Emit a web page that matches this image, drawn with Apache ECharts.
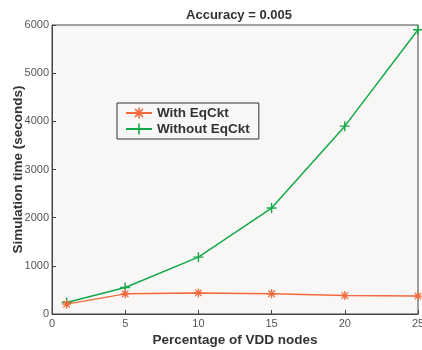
<!DOCTYPE html>
<html><head><meta charset="utf-8">
<script src="https://cdn.jsdelivr.net/npm/echarts@6/dist/echarts.min.js"></script>
<style>html,body{margin:0;padding:0;background:#fff}#c{width:422px;height:350px}</style>
</head><body><div id="c"></div>
<script>
const xValues = [1, 5, 10, 15, 20, 25];
const withEqCkt = [205, 418, 438, 420, 382, 372];
const withoutEqCkt = [240, 550, 1180, 2200, 3900, 5900];
const xTicks = [0, 5, 10, 15, 20, 25];
const yTicks = [0, 1000, 2000, 3000, 4000, 5000, 6000];

const plusPath = 'path://M4.3,0 H5.7 V4.3 H10 V5.7 H5.7 V10 H4.3 V5.7 H0 V4.3 H4.3 Z';
const starPath = 'path://M4.3,0 H5.7 V3.3 L8.1,0.9 L9.1,1.9 L6.7,4.3 H10 V5.7 H6.7 L9.1,8.1 L8.1,9.1 L5.7,6.7 V10 H4.3 V6.7 L1.9,9.1 L0.9,8.1 L3.3,5.7 H0 V4.3 H3.3 L0.9,1.9 L1.9,0.9 L4.3,3.3 Z';

const chart = echarts.init(document.getElementById('c'));
const font = 'Liberation Sans, Arial, sans-serif';
chart.setOption({
  animation: false,
  backgroundColor: '#ffffff',
  title: {
    text: 'Accuracy = 0.005', left: 234, top: 4, textAlign: 'center',
    textStyle: {fontFamily: font, fontSize: 13, fontWeight: 'bold', color: '#333'}
  },
  legend: {
    left: 117, top: 103, orient: 'vertical',
    width: 145, padding: [3, 9, 3, 8], itemGap: 2,
    borderColor: '#333', borderWidth: 1, backgroundColor: '#f8f7f5',
    itemWidth: 26, itemHeight: 14,
    textStyle: {fontFamily: font, fontSize: 13.5, fontWeight: 'bold', color: '#333'},
    data: ['With EqCkt', 'Without EqCkt']
  },
  grid: {left: 52, right: 4, top: 25, bottom: 36, outerBoundsMode: 'none', containLabel: false,
    show: true, backgroundColor: '#f8f7f5', borderColor: '#444', borderWidth: 1},
  xAxis: {
    type: 'value', min: 0, max: 25, interval: 5,
    name: 'Percentage of VDD nodes', nameLocation: 'middle', nameGap: 19, nameMoveOverlap: false,
    nameTextStyle: {fontFamily: font, fontSize: 13.5, fontWeight: 'bold', color: '#333'},
    axisLine: {lineStyle: {color: '#444', width: 1}},
    axisTick: {inside: true, length: 4, lineStyle: {color: '#444'}},
    axisLabel: {fontFamily: font, fontSize: 11, color: '#555', margin: 4,
      formatter: v => xTicks.includes(v) ? String(v) : ''},
    splitLine: {show: false}
  },
  yAxis: {
    type: 'value', min: 0, max: 6000, interval: 1000,
    name: 'Simulation time (seconds)', nameLocation: 'middle', nameGap: 27, nameMoveOverlap: false,
    nameTextStyle: {fontFamily: font, fontSize: 13.5, fontWeight: 'bold', color: '#333'},
    axisLine: {show: true, lineStyle: {color: '#444', width: 1}},
    axisTick: {show: true, inside: true, length: 4, lineStyle: {color: '#444'}},
    axisLabel: {fontFamily: font, fontSize: 11, color: '#555', margin: 3,
      formatter: v => yTicks.includes(v) ? String(v) : ''},
    splitLine: {show: false}
  },
  series: [
    {
      name: 'With EqCkt', type: 'line',
      data: xValues.map((x, i) => [x, withEqCkt[i]]),
      symbol: starPath, symbolSize: 9, showAllSymbol: true,
      lineStyle: {color: '#f26a3c', width: 1.5},
      itemStyle: {color: '#f26a3c'}, z: 3
    },
    {
      name: 'Without EqCkt', type: 'line',
      data: xValues.map((x, i) => [x, withoutEqCkt[i]]),
      symbol: plusPath, symbolSize: 10, showAllSymbol: true,
      lineStyle: {color: '#13a84a', width: 1.5},
      itemStyle: {color: '#13a84a'}, z: 2
    }
  ]
});
</script></body></html>
